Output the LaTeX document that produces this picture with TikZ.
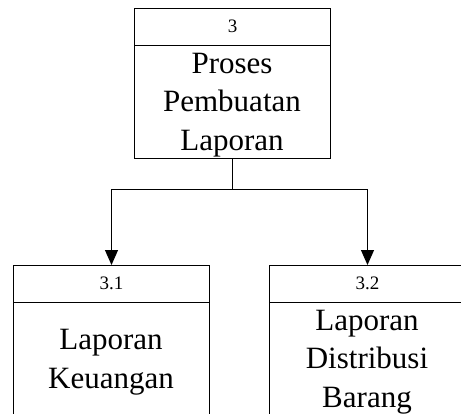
\documentclass[tikz,border=0pt]{standalone}
\usepackage{fontspec}
\setmainfont{Liberation Serif}
\usetikzlibrary{arrows.meta}
\begin{document}
\begin{tikzpicture}[x=1pt,y=1pt,
  procbox/.style={draw=black,line width=1pt,rectangle,minimum width=196pt,minimum height=150pt,anchor=north west,inner sep=0pt},
  numtxt/.style={font=\fontsize{19}{22}\selectfont,anchor=center,inner sep=0pt},
  maintxt/.style={font=\fontsize{31}{38.5}\selectfont,align=center,anchor=base,inner sep=0pt},
  conn/.style={draw=black,line width=1pt},
  arr/.style={conn,-{Triangle[length=15pt,width=13pt]}}]
\useasboundingbox (0,0) rectangle (461,-413);
% boxes
\node[procbox] (p3) at (134,-8) {};
\node[procbox] (p31) at (13,-265) {};
\node[procbox] (p32) at (269,-265) {};
% dividers
\draw[conn] ([yshift=-37pt]p3.north west) -- ([yshift=-37pt]p3.north east);
\draw[conn] ([yshift=-37pt]p31.north west) -- ([yshift=-37pt]p31.north east);
\draw[conn] ([yshift=-37pt]p32.north west) -- ([yshift=-37pt]p32.north east);
% numbers
\node[numtxt] (n3) at ([yshift=-18.5pt]p3.north) {3};
\node[numtxt] (n31) at ([yshift=-18.5pt]p31.north) {3.1};
\node[numtxt] (n32) at ([yshift=-18.5pt]p32.north) {3.2};
% main texts (base = last line baseline)
\node[maintxt] (t3) at (232,-150) {Proses\\Pembuatan\\Laporan};
\node[maintxt] (t31) at (111,-388) {Laporan\\Keuangan};
\node[maintxt] (t32) at (367,-407) {Laporan\\Distribusi\\Barang};
% connectors
\draw[conn] (p3.south) -- ++(0,-30) coordinate (j);
\draw[arr] (j) -| (p31.north);
\draw[arr] (j) -| (p32.north);
\end{tikzpicture}
\end{document}
